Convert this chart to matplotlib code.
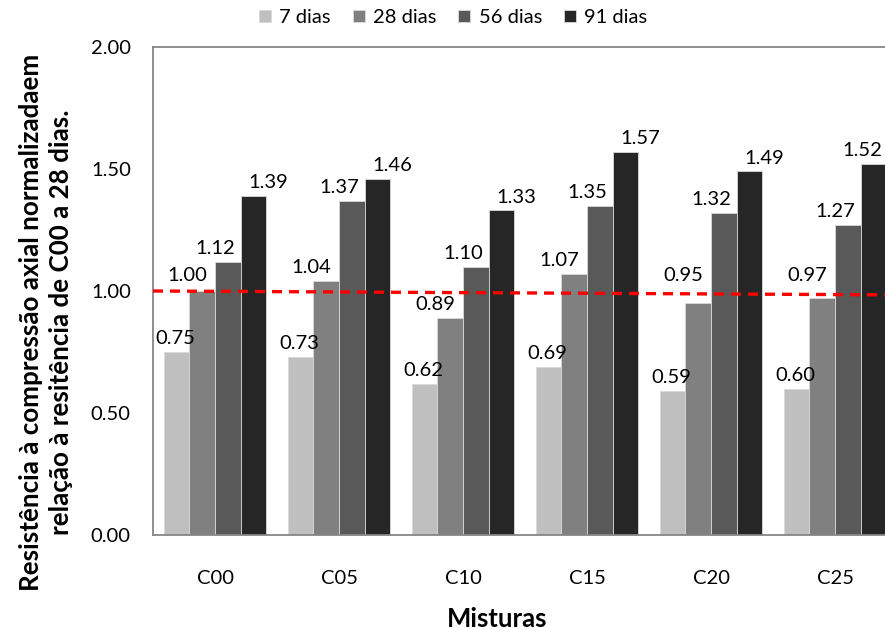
import matplotlib
matplotlib.use("Agg")
import matplotlib.pyplot as plt
import numpy as np

plt.rcParams['font.family'] = ['Lato', 'DejaVu Sans']

categories = ["C00", "C05", "C10", "C15", "C20", "C25"]
series_names = ["7 dias", "28 dias", "56 dias", "91 dias"]
values = {
    "7 dias":  [0.75, 0.73, 0.62, 0.69, 0.59, 0.60],
    "28 dias": [1.00, 1.04, 0.89, 1.07, 0.95, 0.97],
    "56 dias": [1.12, 1.37, 1.10, 1.35, 1.32, 1.27],
    "91 dias": [1.39, 1.46, 1.33, 1.57, 1.49, 1.52],
}
colors = ["#BFBFBF", "#808080", "#595959", "#262626"]
yticks = [0.0, 0.5, 1.0, 1.5, 2.0]
ref_line = [1.00, 0.984]  # reference level at left and right ends

# horizontal nudge of value labels per series (category units)
label_dx = [-0.01, -0.12, -0.10, 0.12]

fig = plt.figure(figsize=(8.85, 6.3), dpi=100)
ax = fig.add_axes([0.1729, 0.1508, 0.8407, 0.7746])
ax.set_xlim(-0.5, len(categories) - 0.5)
ax.set_ylim(0, 2.0)

# rightmost label centre that still fits inside the figure
fig_right_data = ax.transData.inverted().transform(
    fig.transFigure.transform((1.0, 0.0)))[0]
max_label_x = fig_right_data - 0.185

x = np.arange(len(categories))
w = 0.206
for i, name in enumerate(series_names):
    pos = x + (i - 1.5) * w
    ax.bar(pos, values[name], width=w, color=colors[i], label=name,
           edgecolor="#D9D9D9", linewidth=0.6, zorder=2)
    for xp, v in zip(pos, values[name]):
        lx = min(xp + label_dx[i], max_label_x)
        ly = v + 0.02
        # keep labels clear of the dashed reference line
        if ly < ref_line[0] + 0.03 and ly + 0.07 > ref_line[0]:
            ly = ref_line[0] + 0.03
        ax.text(lx, ly, f"{v:.2f}", ha="center", va="bottom",
                fontsize=14.5, color="#000000", zorder=4)

ax.plot([-0.5, len(categories) - 0.5], ref_line, color="#FF0000",
        linestyle=(0, (3.0, 2.1)), linewidth=2.4, zorder=3)

ax.set_yticks(yticks)
ax.set_yticklabels([f"{t:.2f}" for t in yticks])
ax.set_xticks(x)
ax.set_xticklabels(categories)
ax.tick_params(axis="y", length=0, pad=16, labelsize=14.5)
ax.tick_params(axis="x", length=0, pad=25, labelsize=14.5)
for s in ax.spines.values():
    s.set_color("#868686")
    s.set_linewidth(1.3)

ax.set_ylabel("Resistência à compressão axial normalizadaem\nrelação à resitência de C00 a 28 dias.",
              fontsize=18.7, fontweight="bold", linespacing=1.3)
ax.yaxis.set_label_coords(-0.108, 0.4365)
ax.set_xlabel("Misturas", fontsize=18.5, fontweight="bold")
ax.xaxis.set_label_coords(0.462, -0.148)

fig.legend(loc="center", bbox_to_anchor=(0.512, 0.972), ncol=4, frameon=False,
           fontsize=14.5, handlelength=0.6, handleheight=0.6, handletextpad=0.4,
           columnspacing=1.1)

fig.savefig("out.png", dpi=100)
